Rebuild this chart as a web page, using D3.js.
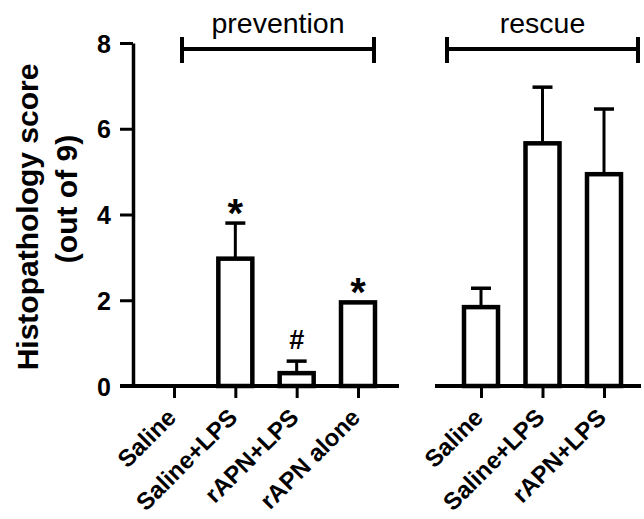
<!DOCTYPE html>
<html>
<head>
<meta charset="utf-8">
<style>
  body { margin: 0; background: #fff; }
  text { font-family: "Liberation Sans", Arial, sans-serif; }
</style>
</head>
<body>
<svg width="644" height="519"></svg>
<script src="https://cdn.jsdelivr.net/npm/d3@7"></script>
<script>
  // data
  var preventionGroups = ["Saline", "Saline+LPS", "rAPN+LPS", "rAPN alone"];
  var preventionMeans  = [0, 2.97, 0.3, 1.95];
  var preventionErr    = [0, 0.83, 0.28, 0];
  var preventionMarks  = ["", "*", "#", "*"];

  var rescueGroups = ["Saline", "Saline+LPS", "rAPN+LPS"];
  var rescueMeans  = [1.84, 5.66, 4.94];
  var rescueErr    = [0.44, 1.31, 1.52];
  var rescueMarks  = ["", "", ""];

  var yTicks = [0, 2, 4, 6, 8];

  var svg = d3.select("svg");

  var y = d3.scaleLinear().domain([0, 8]).range([386, 43]);

  var xPrev = d3.scalePoint().domain(preventionGroups).range([174, 358]);
  var xResc = d3.scalePoint().domain(rescueGroups).range([481, 604]);

  var barW = 34;

  // y axis
  var yAxis = svg.append("g")
      .attr("transform", "translate(133,0)")
      .call(d3.axisLeft(y).tickValues(yTicks).tickSize(13).tickSizeOuter(0));
  yAxis.select(".domain").attr("stroke-width", 3.5);
  yAxis.selectAll(".tick line").attr("stroke-width", 3);
  yAxis.selectAll(".tick text")
      .attr("font-size", 25).attr("font-weight", "bold")
      .attr("x", -22).attr("dy", "0.36em")
      .style("font-family", "'Liberation Sans', Arial, sans-serif");

  // y label
  svg.append("text")
      .attr("transform", "translate(38,217) rotate(-90)")
      .attr("text-anchor", "middle")
      .attr("font-size", 30).attr("font-weight", "bold")
      .text("Histopathology score");
  svg.append("text")
      .attr("transform", "translate(77,199) rotate(-90)")
      .attr("text-anchor", "middle")
      .attr("font-size", 30).attr("font-weight", "bold")
      .text("(out of 9)");

  function panel(groups, means, errs, marks, x, x0, x1, bx0, bx1, title) {
    var g = svg.append("g");

    // baseline
    g.append("line")
        .attr("x1", x0).attr("x2", x1)
        .attr("y1", y(0)).attr("y2", y(0))
        .attr("stroke", "#000").attr("stroke-width", 4);

    var ax = g.append("g")
        .attr("transform", "translate(0," + y(0) + ")")
        .call(d3.axisBottom(x).tickSize(12).tickSizeOuter(0));
    ax.select(".domain").remove();
    ax.selectAll(".tick line").attr("stroke-width", 3);
    ax.selectAll(".tick text")
        .attr("font-size", 24).attr("font-weight", "bold")
        .attr("text-anchor", "end")
        .attr("transform", "translate(3,33) rotate(-45)")
        .attr("x", 0).attr("y", 0).attr("dy", 0)
        .style("font-family", "'Liberation Sans', Arial, sans-serif");

    var data = groups.map(function(d, i) {
      return {name: d, v: means[i], e: errs[i], m: marks[i]};
    });

    // error bars
    var eb = data.filter(function(d) { return d.e > 0; });
    g.selectAll(".stem").data(eb).enter().append("line")
        .attr("x1", function(d) { return x(d.name); })
        .attr("x2", function(d) { return x(d.name); })
        .attr("y1", function(d) { return y(d.v); })
        .attr("y2", function(d) { return y(d.v + d.e); })
        .attr("stroke", "#000").attr("stroke-width", 3);
    g.selectAll(".cap").data(eb).enter().append("line")
        .attr("x1", function(d) { return x(d.name) - 10; })
        .attr("x2", function(d) { return x(d.name) + 10; })
        .attr("y1", function(d) { return y(d.v + d.e); })
        .attr("y2", function(d) { return y(d.v + d.e); })
        .attr("stroke", "#000").attr("stroke-width", 3.5);

    // bars
    g.selectAll(".bar").data(data.filter(function(d) { return d.v > 0; })).enter().append("rect")
        .attr("x", function(d) { return x(d.name) - barW / 2; })
        .attr("width", barW)
        .attr("y", function(d) { return y(d.v); })
        .attr("height", function(d) { return y(0) - y(d.v); })
        .attr("fill", "#fff").attr("stroke", "#000").attr("stroke-width", 4.5);

    // significance marks
    g.selectAll(".mark").data(data.filter(function(d) { return d.m; })).enter().append("text")
        .attr("x", function(d) { return x(d.name); })
        .attr("y", function(d) { return y(d.v + d.e) + (d.m === "*" ? 4 : -12); })
        .attr("text-anchor", "middle")
        .attr("font-size", function(d) { return d.m === "*" ? 40 : 27; })
        .attr("font-weight", "bold")
        .text(function(d) { return d.m; });

    // bracket
    var by = 49;
    g.append("line").attr("x1", bx0).attr("x2", bx1).attr("y1", by).attr("y2", by)
        .attr("stroke", "#000").attr("stroke-width", 4);
    [bx0, bx1].forEach(function(bx) {
      g.append("line").attr("x1", bx).attr("x2", bx).attr("y1", by - 12).attr("y2", by + 14)
          .attr("stroke", "#000").attr("stroke-width", 4);
    });
    g.append("text")
        .attr("x", (bx0 + bx1) / 2).attr("y", 33)
        .attr("text-anchor", "middle")
        .attr("font-size", 28.5)
        .text(title);
  }

  panel(preventionGroups, preventionMeans, preventionErr, preventionMarks, xPrev,
        120, 399, 182, 374, "prevention");
  panel(rescueGroups, rescueMeans, rescueErr, rescueMarks, xResc,
        435, 641, 447, 638, "rescue");
</script>
</body>
</html>
